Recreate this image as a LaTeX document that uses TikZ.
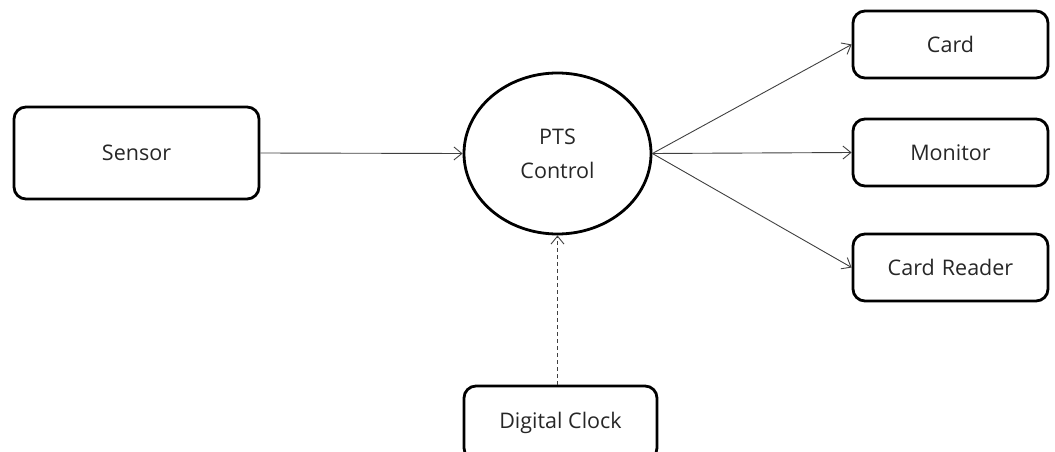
\documentclass[tikz,border=0pt]{standalone}
\usepackage{fontspec}
\setmainfont{Open Sans}
\usetikzlibrary{arrows.meta,shapes.geometric}
\begin{document}
\begin{tikzpicture}[x=1pt,y=-1pt,
  box/.style={draw=black, line width=2.8pt, rounded corners=12pt,
    inner sep=0pt, font=\fontsize{21.5}{24}\selectfont, text=black!85},
  arr/.style={draw=black!75, line width=0.9pt,
    -{Straight Barb[length=8pt,width=13pt,line width=0.9pt]}},
  dasharr/.style={arr, dash pattern=on 4pt off 3pt}]
\useasboundingbox (0,0) rectangle (1055,452);

\node[box, minimum width=245pt, minimum height=92pt] (sensor) at (136.5,153) {Sensor};
\node[draw=black, line width=2.8pt, ellipse, inner sep=0pt,
  minimum width=187pt, minimum height=161pt, align=center,
  font=\fontsize{21.5}{34}\selectfont, text=black!85] (pts) at (557.5,153.5) {PTS\\Control};

\node[box, minimum width=195pt, minimum height=67pt] (card) at (950.5,44.5) {Card};
\node[box, minimum width=195pt, minimum height=67pt] (monitor) at (950.5,152.5) {Monitor};
\node[box, minimum width=195pt, minimum height=67pt] (reader) at (950.5,267.5) {Card\,\,Reader};
\node[box, minimum width=193pt, minimum height=74pt] (clock) at (560.5,423) {Digital Clock};

\draw[arr] (sensor.east) -- (pts.west);
\draw[arr] (pts.east) -- (card.west);
\draw[arr] (pts.east) -- (monitor.west);
\draw[arr] (pts.east) -- (reader.west);
\draw[dasharr] (clock.north -| pts.south) -- (pts.south);
\end{tikzpicture}
\end{document}
